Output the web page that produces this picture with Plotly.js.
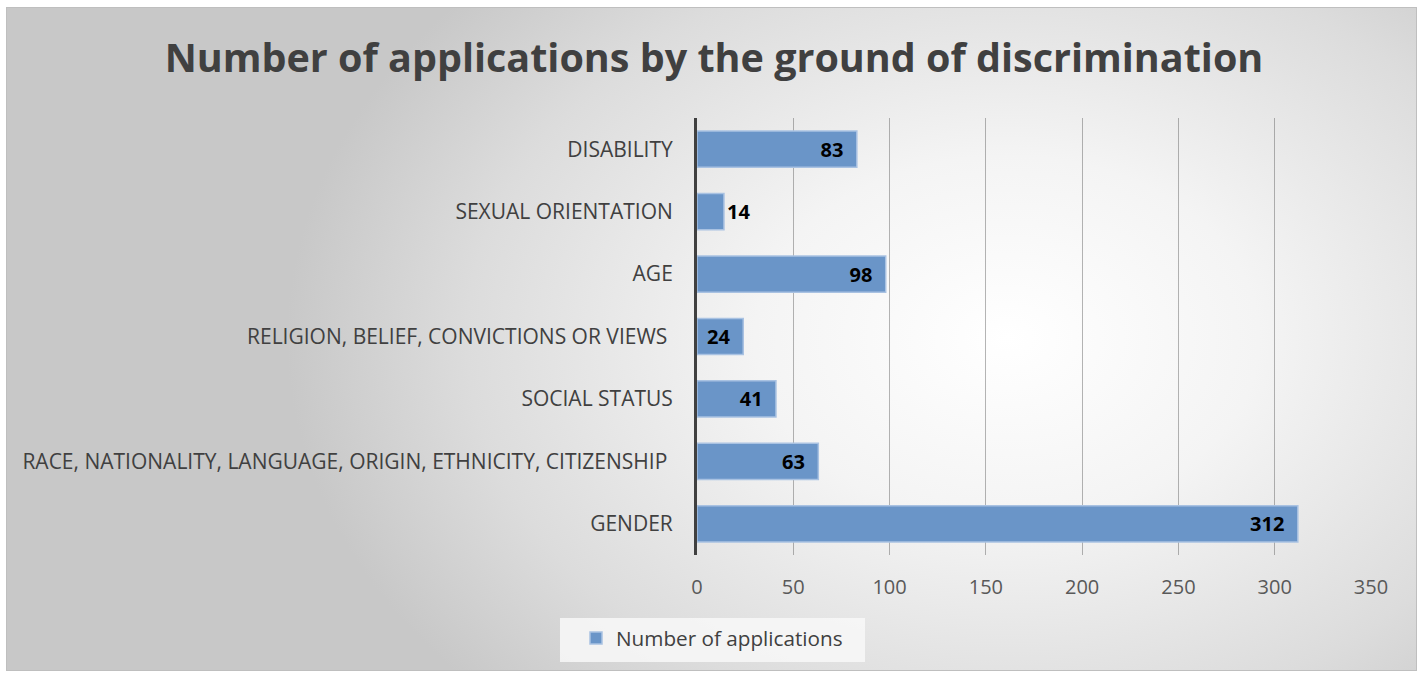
<!DOCTYPE html>
<html>
<head>
<meta charset="utf-8">
<script src="https://cdn.plot.ly/plotly-3.0.1.min.js"></script>
<style>
  html, body { margin: 0; padding: 0; width: 1417px; height: 674px; overflow: hidden; background: #ffffff; }
  #frame {
    position: absolute; left: 6px; top: 7px; width: 1411px; height: 664px;
    box-sizing: border-box; border: 1px solid #bfbfbf;
    background: radial-gradient(ellipse 720px 520px at 1000px 330px, #ffffff 0%, #f4f4f4 35%, #dcdcdc 75%, #c8c8c8 100%);
  }
  #chart { position: absolute; left: 0; top: 0; width: 1417px; height: 674px; }
</style>
</head>
<body>
<div id="frame"></div>
<div id="chart"></div>
<script>
const categories = [
  "GENDER",
  "RACE, NATIONALITY, LANGUAGE, ORIGIN, ETHNICITY, CITIZENSHIP ",
  "SOCIAL STATUS",
  "RELIGION, BELIEF, CONVICTIONS OR VIEWS ",
  "AGE",
  "SEXUAL ORIENTATION",
  "DISABILITY"
];
const applications = [312, 63, 41, 24, 98, 14, 83];
const seriesName = "Number of applications";
const tickValues = [0, 50, 100, 150, 200, 250, 300, 350];

const fontFamily = "'Open Sans', 'Noto Sans', sans-serif";

const trace = {
  type: "bar",
  orientation: "h",
  name: seriesName,
  y: categories,
  x: applications,
  text: applications.map(v => v < 20 ? String(v) : String(v) + "\u00a0\u00a0"),
  textposition: applications.map(v => v < 20 ? "outside" : "inside"),
  insidetextanchor: "end",
  constraintext: "none",
  textangle: 0,
  cliponaxis: false,
  textfont: { family: fontFamily, size: 20, color: "#000000", weight: "bold" },
  marker: { color: "#6a95c8", line: { color: "#a9c2e2", width: 1.5 } },
  width: 0.58,
  hoverinfo: "x+y"
};

const layout = {
  width: 1417,
  height: 674,
  paper_bgcolor: "rgba(0,0,0,0)",
  plot_bgcolor: "rgba(0,0,0,0)",
  margin: { l: 697, r: 46, t: 118, b: 119 },
  title: {
    text: "Number of applications by the ground of discrimination",
    font: { family: fontFamily, size: 39.5, color: "#404040", weight: "bold" },
    x: 714 / 1417, xanchor: "center", xref: "container",
    y: 0.913, yanchor: "middle", yref: "container"
  },
  xaxis: {
    range: [0, 350],
    tickvals: tickValues,
    ticktext: tickValues.map(String),
    showgrid: true,
    gridcolor: "rgba(90,90,90,0.45)",
    gridwidth: 1.2,
    zeroline: false,
    showline: false,
    ticks: "",
    ticklabelstandoff: 18,
    tickfont: { family: fontFamily, size: 20, color: "#595959" },
    fixedrange: true
  },
  yaxis: {
    type: "category",
    categoryorder: "array",
    categoryarray: categories,
    showgrid: false,
    zeroline: false,
    showline: true,
    linecolor: "#404040",
    linewidth: 3,
    ticks: "",
    ticklabelstandoff: 17,
    tickfont: { family: fontFamily, size: 21, color: "#404040" },
    fixedrange: true
  },
  showlegend: true,
  legend: {
    orientation: "h",
    x: (712 - 697) / 674, xanchor: "center",
    y: -0.19, yanchor: "middle",
    bgcolor: "rgba(0,0,0,0)",
    font: { family: fontFamily, size: 20.7, color: "#404040" },
    itemwidth: 30
  },
  shapes: [{
    type: "rect", xref: "paper", yref: "paper", layer: "below",
    x0: (560 - 697) / 674, x1: (865 - 697) / 674,
    y0: (555 - 662) / 437, y1: (555 - 618) / 437,
    fillcolor: "rgba(248,248,248,0.85)", line: { width: 0 }
  }],
  bargap: 0.42
};

Plotly.newPlot("chart", [trace], layout, { displayModeBar: false, staticPlot: true });
</script>
</body>
</html>
